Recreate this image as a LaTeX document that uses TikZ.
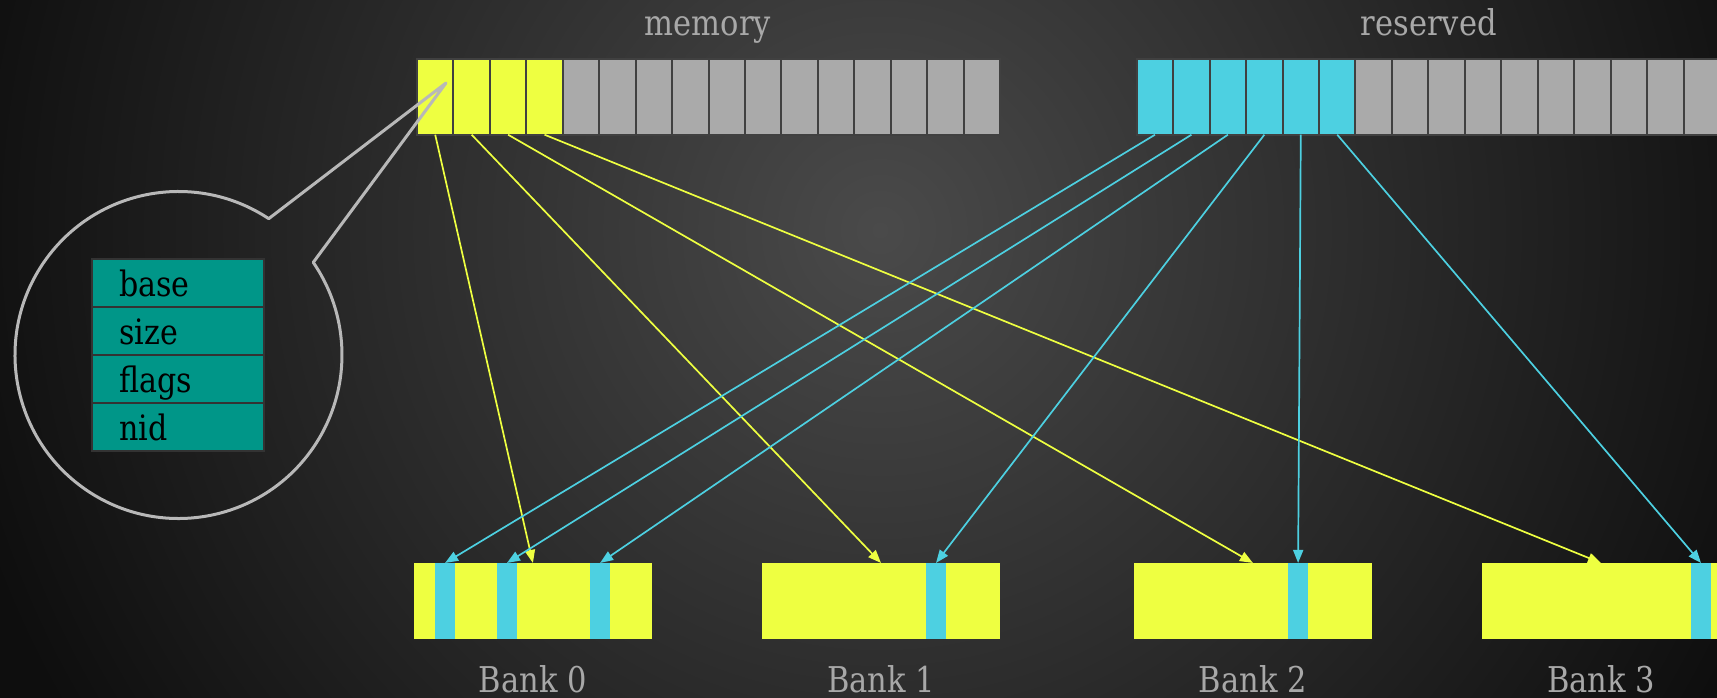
\documentclass[tikz,border=0pt]{standalone}
\usepackage{fontspec}
\setmainfont{DejaVu Serif}[FakeStretch=0.86]
\usetikzlibrary{arrows.meta,calc}
\definecolor{limec}{HTML}{EEFF41}
\definecolor{cyanc}{HTML}{4DD0E1}
\definecolor{cellgrey}{HTML}{AAAAAA}
\definecolor{cellline}{HTML}{404040}
\definecolor{tealc}{HTML}{009688}
\definecolor{rowline}{HTML}{333333}
\definecolor{labelc}{HTML}{A8A8A8}
\definecolor{bgin}{HTML}{4A4A4A}
\definecolor{bgout}{HTML}{0E0E0E}
\definecolor{callc}{HTML}{B8B8B8}
\begin{document}
\begin{tikzpicture}[x=1pt,y=-1pt,
  cell/.style={rectangle,draw=cellline,line width=2pt,minimum width=36.45pt,minimum height=75.4pt,inner sep=0pt,outer sep=0pt},
  memcell/.style={cell,fill=limec},
  rescell/.style={cell,fill=cyanc},
  freecell/.style={cell,fill=cellgrey},
  bank/.style={rectangle,fill=limec,minimum width=238pt,minimum height=76.5pt,inner sep=0pt,outer sep=0pt},
  stripe/.style={rectangle,fill=cyanc,minimum width=20pt,minimum height=76.5pt,inner sep=0pt,outer sep=0pt},
  lbl/.style={text=labelc,font=\fontsize{35.5}{40}\selectfont,anchor=base,inner sep=0pt,text depth=0pt},
  tablerow/.style={rectangle,fill=tealc,draw=rowline,line width=2pt,minimum width=172pt,minimum height=48pt,inner sep=0pt},
  rowtxt/.style={text=black,font=\fontsize{35}{40}\selectfont,anchor=base west,inner sep=0pt},
  yarrow/.style={draw=limec,line width=1.7pt,-{Triangle[length=13pt,width=10pt]}},
  carrow/.style={draw=cyanc,line width=1.7pt,-{Triangle[length=13pt,width=10pt]}},
  callout/.style={draw=callc,line width=3pt,line join=round}
]
\useasboundingbox (0,0) rectangle (1717,698);
\clip (0,0) rectangle (1717,698);
% background
\fill[bgout] (0,0) rectangle (1717,698);
\shade[inner color=bgin,outer color=bgout] (880,230) circle (950);

% titles
\node[lbl] (memlbl) at (708,36) {memory};
\node[lbl] (reslbl) at (1428.8,36) {reserved};

% memory cells
\foreach \i in {0,...,3}{\node[memcell] (m\i) at ({435.2+36.45*\i},97) {};}
\foreach \i in {4,...,15}{\node[freecell] (m\i) at ({435.2+36.45*\i},97) {};}
% reserved cells
\foreach \i in {0,...,5}{\node[rescell] (r\i) at ({1155+36.45*\i},97) {};}
\foreach \i in {6,...,15}{\node[freecell] (r\i) at ({1155+36.45*\i},97) {};}

% banks
\node[bank] (b0) at (532.9,601.2) {};
\node[bank] (b1) at (881,601.2) {};
\node[bank] (b2) at (1252.9,601.2) {};
\node[bank] (b3) at (1601,601.2) {};
\node[stripe] (s00) at (445.1,601.2) {};
\node[stripe] (s01) at (507,601.2) {};
\node[stripe] (s02) at (600.1,601.2) {};
\node[stripe] (s10) at (936,601.2) {};
\node[stripe] (s20) at (1298.1,601.2) {};
\node[stripe] (s30) at (1701,601.2) {};

% bank labels
\node[lbl] (l0) at (532.9,692) {Bank 0};
\node[lbl] (l1) at (881,692) {Bank 1};
\node[lbl] (l2) at (1252.9,692) {Bank 2};
\node[lbl] (l3) at (1601,692) {Bank 3};

% yellow arrows
\draw[yarrow] (m0.south) -- (b0.north);
\draw[yarrow] (m1.south) -- (b1.north);
\draw[yarrow] (m2.south) -- (b2.north);
\draw[yarrow] (m3.south) -- (b3.north);
% cyan arrows
\draw[carrow] (r0.south) -- (s00.north);
\draw[carrow] (r1.south) -- (s01.north);
\draw[carrow] (r2.south) -- (s02.north);
\draw[carrow] (r3.south) -- (s10.north);
\draw[carrow] (r4.south) -- (s20.north);
\draw[carrow] (r5.south) -- (s30.north);

% table
\node[tablerow] (t0) at (178,283.3) {};
\node[tablerow] (t1) at (178,331.3) {};
\node[tablerow] (t2) at (178,379.3) {};
\node[tablerow] (t3) at (178,427.3) {};
\node[rowtxt] (tx0) at (119,296.7) {base};
\node[rowtxt] (tx1) at (119,344.7) {size};
\node[rowtxt] (tx2) at (119,392.7) {flags};
\node[rowtxt] (tx3) at (119,440.7) {nid};

% callout
\coordinate (tip) at (446,83);
\coordinate (cc) at (178.5,355);
\draw[callout] (tip) -- ($(cc)+(-56.5:163.5)$) arc[start angle=-56.5,end angle=-394.5,radius=163.5] -- cycle;
\end{tikzpicture}
\end{document}
